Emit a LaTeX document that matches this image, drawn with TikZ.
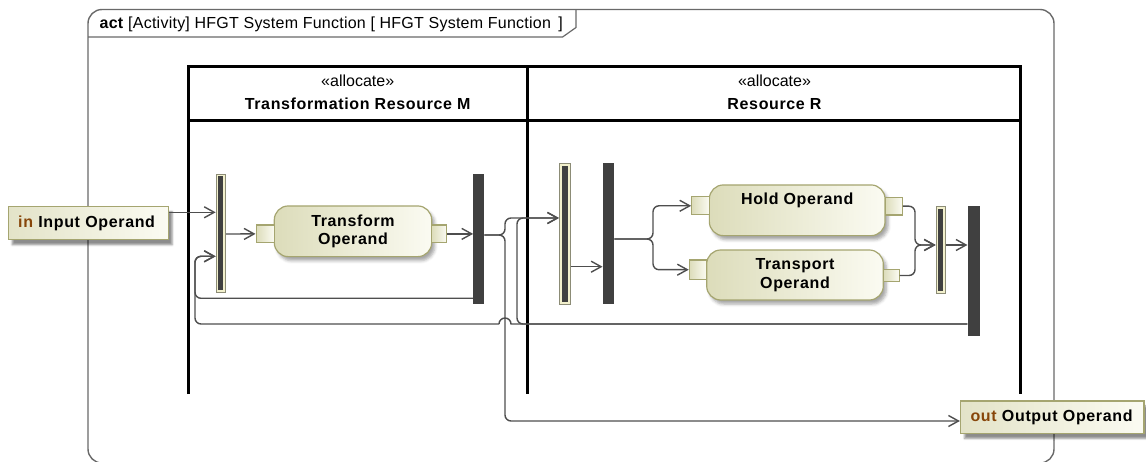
\documentclass[tikz,border=0pt]{standalone}
\usepackage{fontspec}
\setmainfont{Liberation Sans}
\newfontfamily\lblfont[LetterSpace=4]{Liberation Sans}
\newfontfamily\ttlfont[LetterSpace=1.5]{Liberation Sans}
\usetikzlibrary{arrows.meta,shadows.blur}

\definecolor{lineGray}{RGB}{78,78,78}
\definecolor{frameGray}{RGB}{105,105,105}
\definecolor{barDark}{RGB}{64,64,64}
\definecolor{olive}{RGB}{165,165,112}
\definecolor{creamL}{RGB}{220,220,186}
\definecolor{creamR}{RGB}{251,251,242}
\definecolor{barCream}{RGB}{242,240,204}
\definecolor{barEdge}{RGB}{140,140,118}
\definecolor{paramBrown}{RGB}{135,70,10}

\tikzset{
  conn/.style={draw=lineGray, line width=1.4pt},
  flow/.style={conn, rounded corners=6pt, -{Straight Barb[length=10pt,width=11pt]}},
  laneline/.style={line width=3pt, black},
  labelfont/.style={font=\lblfont\bfseries\fontsize{16}{18.5}\selectfont},
  action/.style={rectangle, rounded corners=14pt, draw=olive, line width=1.2pt,
    left color=creamL, right color=creamR, inner sep=0pt, align=center, labelfont,
    blur shadow={shadow xshift=3pt, shadow yshift=-4pt, shadow blur radius=3pt, shadow opacity=35}},
  pinbox/.style={rectangle, draw=olive, line width=1.1pt, left color=creamL, right color=creamR, inner sep=0pt},
  barlight/.style={rectangle, draw=barEdge, line width=0.8pt, fill=barCream, inner sep=0pt,
    path picture={\fill[barDark] ([shift={(2.4pt,-2.4pt)}]path picture bounding box.north west)
      rectangle ([shift={(-2.4pt,2.4pt)}]path picture bounding box.south east);}},
  bardark/.style={rectangle, fill=barDark, inner sep=0pt},
  param/.style={rectangle, draw=olive, line width=1.2pt, left color=creamL!80!white, right color=creamR,
    inner ysep=0pt, inner xsep=10pt, align=left, labelfont,
    blur shadow={shadow xshift=4pt, shadow yshift=-5pt, shadow blur radius=2pt, shadow opacity=45}},
}

\begin{document}
\begin{tikzpicture}[x=1pt, y=-1pt]
\useasboundingbox (0,0) rectangle (1146,462);

% activity frame and its name tab
\draw[frameGray, line width=1.4pt, rounded corners=14pt] (88,9.5) rectangle (1054,463);
\draw[frameGray, line width=1.2pt] (88,37) -- (562.6,37) -- (576,27.5) -- (576,9.5);
\node[anchor=west, inner sep=0pt, font=\ttlfont\fontsize{16}{19}\selectfont] (title) at (99.5,24)
  {\textbf{act} [Activity] HFGT System Function [ HFGT System Function \,]};

% swimlanes
\draw[laneline] (188,394) -- (188,66.5) -- (1020.7,66.5) -- (1020.7,394);
\draw[laneline] (527.5,66.5) -- (527.5,394);
\draw[laneline] (188,121) -- (1020.7,121);
\node[font=\fontsize{16}{19}\selectfont, inner sep=0pt] (stM) at (357.7,81) {«allocate»};
\node[labelfont, inner sep=0pt] (laneM) at (357.7,104) {Transformation Resource M};
\node[font=\fontsize{16}{19}\selectfont, inner sep=0pt] (stR) at (774.5,81) {«allocate»};
\node[labelfont, inner sep=0pt] (laneR) at (774.5,104) {Resource R};

% activity parameters
\node[param, minimum width=160pt, minimum height=33pt, text width=140pt] (inp) at (88.2,223.3)
  {\textcolor{paramBrown}{in} Input Operand};
\node[param, minimum width=183.5pt, minimum height=32.5pt, text width=163.5pt] (outp) at (1052.25,417.2)
  {\textcolor{paramBrown}{out} Output Operand};

% lane M
\node[barlight, minimum width=9.7pt, minimum height=118.7pt] (forkM) at (220.9,233.3) {};
\node[action, minimum width=157.4pt, minimum height=50.7pt] (transform) at (353,231.3) {Transform\\Operand};
\node[pinbox, minimum width=18.3pt, minimum height=17.7pt] (tpinL) at (265.2,233.9) {};
\node[pinbox, minimum width=15pt, minimum height=17.7pt] (tpinR) at (439.2,233.9) {};
\node[bardark, minimum width=10.7pt, minimum height=130pt] (joinM) at (478.7,239) {};

% lane R
\node[barlight, minimum width=11.4pt, minimum height=140.7pt] (forkR1) at (565,233.7) {};
\node[bardark, minimum width=11.3pt, minimum height=140.7pt] (forkR2) at (608.4,233.7) {};
\node[action, minimum width=175.7pt, minimum height=50.7pt] (hold) at (797.2,210.3) {Hold Operand\\\strut};
\node[pinbox, minimum width=17.6pt, minimum height=18.3pt] (hpinL) at (700.5,205.8) {};
\node[pinbox, minimum width=17.3pt, minimum height=17.7pt] (hpinR) at (893.7,206.2) {};
\node[action, minimum width=176.6pt, minimum height=50pt] (transport) at (795,275) {Transport\\Operand};
\node[pinbox, minimum width=17.4pt, minimum height=19.3pt] (trpinL) at (698,269.7) {};
\node[pinbox, minimum width=15.7pt, minimum height=12pt] (trpinR) at (891.2,275.5) {};
\node[barlight, minimum width=9.3pt, minimum height=86.3pt] (joinR1) at (940.7,249.8) {};
\node[bardark, minimum width=12.3pt, minimum height=130pt] (joinR2) at (973.8,271) {};

% flows in lane M
\draw[flow] (inp.east |- 0,212.3) -- (forkM.west |- 0,212.3);
\draw[flow] (forkM.east |- 0,234) -- (tpinL.west);
\draw[flow] (tpinR.east) -- (joinM.west |- tpinR.east);
\draw[flow] (joinM.west |- 0,298.3) -| (195,256.3) -- (forkM.west |- 0,256.3);

% flows leaving the M join
\draw[flow] (joinM.east |- 0,235) -| (505,218) -- (forkR1.west |- 0,218);
\draw[flow] (joinM.east |- 0,235) -| (505,421) -- (outp.west |- 0,421);

% loops back from the R join
\draw[flow] (joinR2.west |- 0,324) -| (517,218) -- (forkR1.west |- 0,218);
\draw[conn] (joinR2.west |- 0,324) -- (511,324) arc[start angle=0, end angle=180, radius=6pt];
\draw[flow] (499,324) -- (195,324) -- (195,256.3) -- (forkM.west |- 0,256.3);

% flows in lane R
\draw[flow] (forkR1.east |- 0,266.7) -- (forkR2.west |- 0,266.7);
\draw[flow] (forkR2.east |- 0,239) -| (653,205.8) -- (hpinL.west);
\draw[flow] (forkR2.east |- 0,239) -| (653,269.7) -- (trpinL.west);
\draw[flow] (hpinR.east) -| (915,245) -- (joinR1.west |- 0,245);
\draw[flow] (trpinR.east) -| (915,245) -- (joinR1.west |- 0,245);
\draw[flow] (joinR1.east |- 0,245) -- (joinR2.west |- 0,245);
\end{tikzpicture}
\end{document}
